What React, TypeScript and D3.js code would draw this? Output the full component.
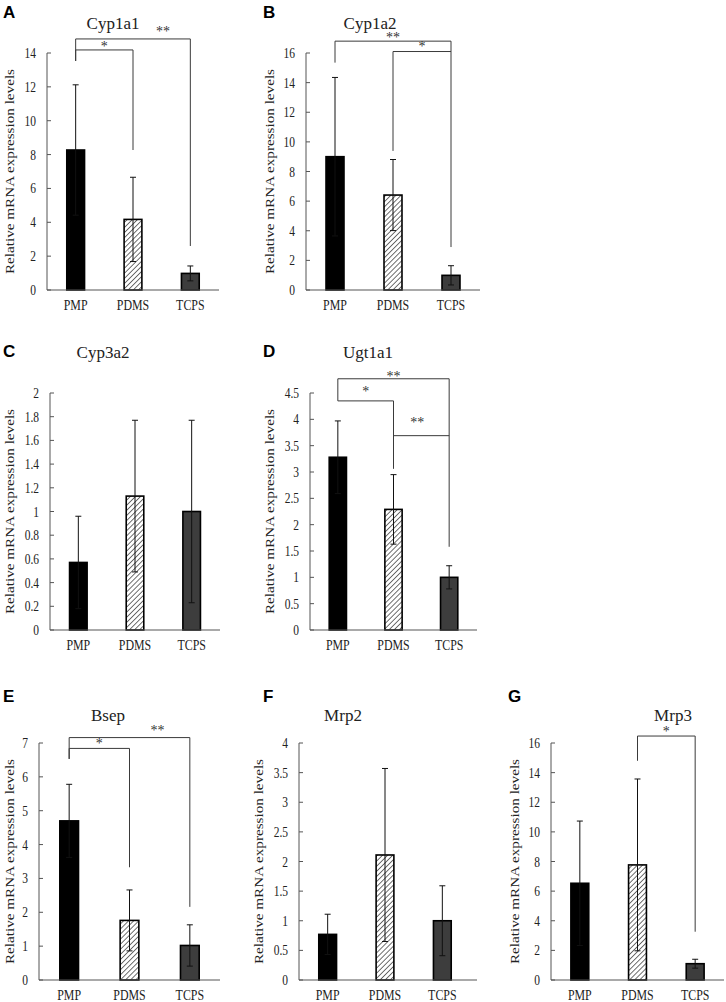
import * as d3 from "d3";

// groups and genes
const groups = ["PMP", "PDMS", "TCPS"];
const genes = ["Cyp1a1", "Cyp1a2", "Cyp3a2", "Ugt1a1", "Bsep", "Mrp2", "Mrp3"];
const letters = ["A", "B", "C", "D", "E", "F", "G"];

// mean relative expression, one row per gene (PMP, PDMS, TCPS)
const means = [
  [8.27, 4.17, 0.98],
  [9.0, 6.41, 0.99],
  [0.57, 1.13, 1.0],
  [3.28, 2.29, 1.0],
  [4.7, 1.76, 1.02],
  [0.77, 2.11, 1.0],
  [6.53, 7.77, 1.1],
];
// error bar half-lengths
const errors = [
  [3.85, 2.49, 0.44],
  [5.35, 2.4, 0.65],
  [0.39, 0.64, 0.77],
  [0.69, 0.66, 0.22],
  [1.08, 0.9, 0.61],
  [0.34, 1.46, 0.59],
  [4.2, 5.8, 0.3],
];
// y axis max and tick step
const yMax = [14, 16, 2, 4.5, 7, 4, 16];
const yStep = [2, 2, 0.2, 0.5, 1, 0.5, 2];

// significance brackets in data units: [from, to, top, fromEnd, toEnd, label]
const brackets = [
  [["PMP", "PDMS", 14.18, 13.53, 8.27, "*"], ["PMP", "TCPS", 14.83, 13.53, 2.6, "**"]],
  [["PMP", "TCPS", 16.8, 15.35, 2.9, "**"], ["PDMS", "TCPS", 16.1, 9.39, 16.1, "*"]],
  [],
  [["PMP", "TCPS", 4.77, 4.35, 1.58, "**"], ["PMP", "PDMS", 4.35, 4.35, 3.06, "*"], ["PDMS", "TCPS", 3.69, 3.69, 3.69, "**"]],
  [["PMP", "PDMS", 6.84, 6.53, 3.33, "*"], ["PMP", "TCPS", 7.16, 6.53, 2.16, "**"]],
  [],
  [["PDMS", "TCPS", 16.47, 14.8, 3.26, "*"]],
];
// star offsets (dx from bracket middle, dy above the line)
const starOffsets = [
  [[0, 5], [30, 9]],
  [[0, 6], [0, 7]],
  [],
  [[0, 4], [0, 11], [-4, 15]],
  [[0, 7], [28, 9]],
  [],
  [[0, 7]],
];

// layout of each panel in page pixels
const layout = [
  { x0: 47, x1: 219, axisEnd: 219, top: 53, bottom: 290, tx: 113, ty: 29, lx: 3, ly: 18, yl: 14 },
  { x0: 306, x1: 480, axisEnd: 480, top: 53, bottom: 290, tx: 370, ty: 29, lx: 263, ly: 18, yl: 274 },
  { x0: 50, x1: 220, axisEnd: 220, top: 393, bottom: 630, tx: 103, ty: 358, lx: 3, ly: 357, yl: 14 },
  { x0: 310, x1: 477, axisEnd: 477, top: 393, bottom: 630, tx: 368, ty: 358, lx: 263, ly: 357, yl: 274 },
  { x0: 39, x1: 220, axisEnd: 220, top: 743, bottom: 980, tx: 108, ty: 721, lx: 3, ly: 702, yl: 14 },
  { x0: 299, x1: 471, axisEnd: 477, top: 743, bottom: 980, tx: 343, ty: 721, lx: 263, ly: 702, yl: 263 },
  { x0: 551, x1: 724, axisEnd: 724, top: 743, bottom: 980, tx: 673, ty: 721, lx: 508, ly: 702, yl: 519 },
];

const SERIF = "'Liberation Serif', 'Times New Roman', serif";
const SANS = "'Liberation Sans', Arial, sans-serif";
const fills = ["#000", "url(#hatch)", "#3d3d3d"];
const LINE = "#3a3a3a";

const Panel = ({ i }: { i: number }) => {
  const L = layout[i];
  const x = d3.scalePoint<string>().domain(groups).range([L.x0, L.x1]).padding(0.5);
  const bw = x.step() * 0.31;
  const y = d3.scaleLinear().domain([0, yMax[i]]).range([L.bottom, L.top]);
  const nTicks = Math.round(yMax[i] / yStep[i]);
  const ticks = d3.range(0, nTicks + 1).map((k) => +(k * yStep[i]).toFixed(2));
  const yMid = (L.top + L.bottom) / 2;

  return (
    <g>
      <text x={L.lx} y={L.ly} fontFamily={SANS} fontWeight="bold" fontSize={17}>
        {letters[i]}
      </text>
      <text x={L.tx} y={L.ty} fontFamily={SERIF} fontSize={17} textAnchor="middle" fill="#222">
        {genes[i]}
      </text>
      <text
        transform={`translate(${L.yl},${yMid}) rotate(-90)`}
        fontFamily={SERIF}
        fontSize={13}
        textAnchor="middle"
        textLength={205}
        lengthAdjust="spacingAndGlyphs"
        fill="#222"
      >
        Relative mRNA  expression levels
      </text>

      {/* bars */}
      {groups.map((g, j) => (
        <rect
          key={g}
          x={x(g)! - bw / 2}
          y={y(means[i][j])}
          width={bw}
          height={y(0) - y(means[i][j])}
          fill={fills[j]}
          stroke="#000"
          strokeWidth={1.6}
        />
      ))}

      {/* error bars */}
      {groups.map((g, j) => {
        const cx = x(g)!;
        const lo = y(Math.max(0, means[i][j] - errors[i][j]));
        const hi = y(means[i][j] + errors[i][j]);
        return (
          <g key={g} stroke="#111" strokeWidth={1}>
            <line x1={cx} x2={cx} y1={lo} y2={hi} />
            <line x1={cx - 3} x2={cx + 3} y1={hi} y2={hi} />
            <line x1={cx - 3} x2={cx + 3} y1={lo} y2={lo} />
          </g>
        );
      })}

      {/* axes */}
      <g stroke="#555" strokeWidth={1}>
        <line x1={L.x0} x2={L.x0} y1={L.top} y2={L.bottom} />
        <line x1={L.x0} x2={L.axisEnd} y1={L.bottom} y2={L.bottom} />
        {ticks.map((t) => (
          <line key={t} x1={L.x0} x2={L.x0 + 4} y1={y(t)} y2={y(t)} />
        ))}
      </g>
      {ticks.map((t) => (
        <text
          key={t}
          transform={`translate(${L.x0 - 11},${y(t) + 5}) scale(0.82,1)`}
          fontFamily={SERIF}
          fontSize={14}
          textAnchor="end"
          fill="#222"
        >
          {t}
        </text>
      ))}
      {groups.map((g) => (
        <text
          key={g}
          transform={`translate(${x(g)},${L.bottom + 20}) scale(0.85,1)`}
          fontFamily={SERIF}
          fontSize={14}
          textAnchor="middle"
          fill="#222"
        >
          {g}
        </text>
      ))}

      {/* significance brackets */}
      {brackets[i].map((b, k) => {
        const [a, c, top, aEnd, cEnd, label] = b as [string, string, number, number, number, string];
        const xa = x(a)!;
        const xc = x(c)!;
        const yt = y(top);
        const [dx, dy] = starOffsets[i][k];
        return (
          <g key={k}>
            <path
              d={`M${xa},${y(aEnd)}V${yt}H${xc}V${y(cEnd)}`}
              fill="none"
              stroke={LINE}
              strokeWidth={1}
            />
            <text
              x={(xa + xc) / 2 + dx}
              y={yt - dy + 6.5}
              fontFamily={SERIF}
              fontSize={14}
              textAnchor="middle"
              fill="#333"
            >
              {label}
            </text>
          </g>
        );
      })}
    </g>
  );
};

export default function App() {
  return (
    <svg
      width={726}
      height={1002}
      style={{ position: "absolute", left: 0, top: 0, background: "#fff" }}
    >
      <defs>
        <pattern id="hatch" patternUnits="userSpaceOnUse" width={3.6} height={3.6} patternTransform="rotate(45)">
          <rect width={3.6} height={3.6} fill="#fff" />
          <line x1={0} y1={0} x2={0} y2={3.6} stroke="#222" strokeWidth={1.3} />
        </pattern>
      </defs>
      <rect width={726} height={1002} fill="#fff" />
      {genes.map((g, i) => (
        <Panel key={g} i={i} />
      ))}
    </svg>
  );
}
